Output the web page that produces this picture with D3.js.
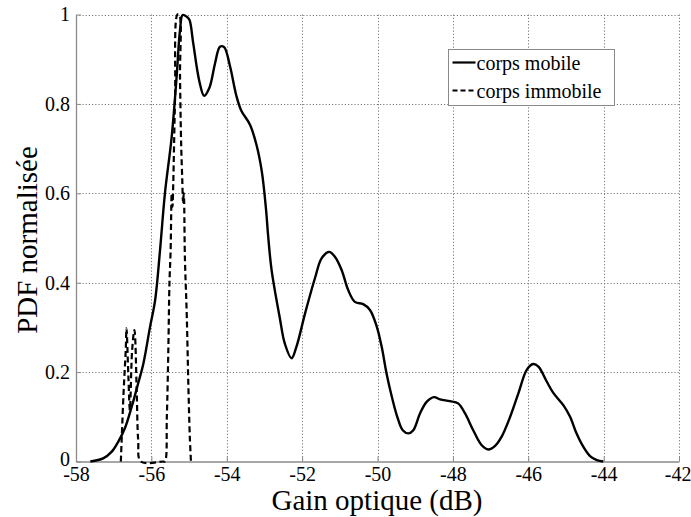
<!DOCTYPE html>
<html>
<head>
<meta charset="utf-8">
<script src="https://cdn.jsdelivr.net/npm/d3@7"></script>
<style>
  html, body { margin: 0; padding: 0; background: #fff; }
  svg { display: block; }
  text { font-family: "Liberation Serif", "Times New Roman", serif; fill: #000; }
</style>
</head>
<body>
<svg id="chart" width="691" height="517"></svg>
<script>
// Gain optique (dB) / PDF normalisée — corps mobile
const mobileGain = [-57.62, -57.28, -57.05, -56.88, -56.70, -56.52, -56.35, -56.21, -56.04, -55.90,
  -55.77, -55.64, -55.46, -55.33, -55.24, -55.17, -55.06, -54.99, -54.89, -54.73, -54.60, -54.46,
  -54.31, -54.18, -54.07, -53.91, -53.75, -53.62, -53.38, -53.21, -53.07, -52.96, -52.90, -52.81,
  -52.59, -52.46, -52.28, -52.15, -51.92, -51.66, -51.48, -51.28, -51.13, -50.95, -50.78, -50.60,
  -50.38, -50.20, -50.02, -49.89, -49.76, -49.62, -49.49, -49.33, -49.18, -49.05, -48.87, -48.69,
  -48.50, -48.34, -48.08, -47.86, -47.68, -47.46, -47.24, -47.06, -46.88, -46.71, -46.48, -46.26,
  -46.04, -45.87, -45.73, -45.51, -45.34, -45.07, -44.89, -44.72, -44.54, -44.36, -44.18, -44.01];
const mobilePdf = [0.000, 0.007, 0.022, 0.044, 0.075, 0.123, 0.175, 0.220, 0.299, 0.361,
  0.473, 0.600, 0.727, 0.861, 0.965, 0.999, 0.995, 0.988, 0.936, 0.852, 0.818, 0.836,
  0.891, 0.928, 0.927, 0.883, 0.820, 0.786, 0.753, 0.708, 0.649, 0.566, 0.503, 0.428,
  0.320, 0.264, 0.231, 0.257, 0.332, 0.410, 0.455, 0.469, 0.458, 0.428, 0.384, 0.357,
  0.352, 0.339, 0.302, 0.257, 0.197, 0.145, 0.104, 0.070, 0.063, 0.070, 0.108, 0.134,
  0.144, 0.139, 0.135, 0.130, 0.108, 0.070, 0.037, 0.027, 0.035, 0.055, 0.100, 0.153,
  0.205, 0.218, 0.212, 0.179, 0.154, 0.126, 0.100, 0.063, 0.033, 0.012, 0.003, 0.000];

// corps immobile
const immobileGain = [-56.81, -56.74, -56.68, -56.66, -56.61, -56.57, -56.51, -56.45, -56.39, -56.35,
  -56.28, -55.69, -55.64, -55.59, -55.55, -55.52, -55.49, -55.46, -55.44, -55.42, -55.40, -55.37,
  -55.31, -55.26, -55.24, -55.21, -55.18, -55.16, -55.14, -55.11, -55.06, -55.02, -54.98, -54.95];
const immobilePdf = [0.000, 0.150, 0.250, 0.298, 0.190, 0.115, 0.250, 0.294, 0.160, 0.048,
  0.000, 0.000, 0.000, 0.100, 0.250, 0.400, 0.470, 0.600, 0.570, 0.620, 0.700, 0.820,
  1.000, 1.000, 0.860, 0.710, 0.630, 0.580, 0.600, 0.455, 0.324, 0.175, 0.055, 0.000];

const xTicks = [-58, -56, -54, -52, -50, -48, -46, -44, -42];
const yTicks = [0, 0.2, 0.4, 0.6, 0.8, 1];
const seriesNames = ["corps mobile", "corps immobile"];

const svg = d3.select("#chart");
const plotL = 76, plotR = 679, plotT = 14.5, plotB = 461.5;

const x = d3.scaleLinear().domain([-58, -42]).range([plotL, plotR]);
const y = d3.scaleLinear().domain([0, 1]).range([plotB, plotT]);

// dotted grid
const grid = svg.append("g").attr("stroke", "#7a7a7a").attr("stroke-width", 1)
  .attr("stroke-dasharray", "1.2,2").attr("fill", "none");
grid.selectAll("line.gx").data(xTicks.slice(1)).join("line")
  .attr("x1", d => Math.round(x(d)) + 0.5).attr("x2", d => Math.round(x(d)) + 0.5)
  .attr("y1", plotT).attr("y2", plotB);
grid.selectAll("line.gy").data(yTicks.slice(1)).join("line")
  .attr("x1", plotL).attr("x2", plotR)
  .attr("y1", d => Math.round(y(d)) + 0.5).attr("y2", d => Math.round(y(d)) + 0.5);

// axes
const xAxis = d3.axisBottom(x).tickValues(xTicks).tickSizeInner(-5).tickSizeOuter(0)
  .tickPadding(5).tickFormat(d3.format("d"));
const yAxis = d3.axisLeft(y).tickValues(yTicks).tickSizeInner(-5).tickSizeOuter(0)
  .tickPadding(6).tickFormat(d => d === 0 || d === 1 ? String(d) : d3.format(".1f")(d));

const gx = svg.append("g").attr("transform", `translate(0,${plotB})`).call(xAxis);
const gy = svg.append("g").attr("transform", `translate(${plotL},0)`).call(yAxis);
[gx, gy].forEach(g => {
  g.attr("font-family", null);
  g.select(".domain").attr("stroke", "#8a8a8a").attr("stroke-width", 1.3);
  g.selectAll(".tick line").attr("stroke", "#8a8a8a");
  g.selectAll(".tick text").style("font-family", "'Liberation Serif', serif")
    .attr("font-size", 20).attr("fill", "#000");
});
gx.selectAll(".tick text").text(d => String(d).replace("\u2212", "-"));
// keep the last label inside the frame
gx.selectAll(".tick text").filter(d => d === -42).attr("text-anchor", "end").attr("dx", 12);
// lift the zero label clear of the first x label
gy.selectAll(".tick text").filter(d => d === 0).attr("dy", "0.2em");

// curves
const line = d3.line().x(d => x(d[0])).y(d => y(d[1])).curve(d3.curveCatmullRom.alpha(0.5));
const mobile = mobileGain.map((g, i) => [g, mobilePdf[i]]);
const immobile = immobileGain.map((g, i) => [g, immobilePdf[i]]);

svg.append("path").datum(immobile).attr("d", line)
  .attr("fill", "none").attr("stroke", "#000").attr("stroke-width", 2.2)
  .attr("stroke-dasharray", "6,3.5");
svg.append("path").datum(mobile).attr("d", line)
  .attr("fill", "none").attr("stroke", "#000").attr("stroke-width", 2.4);

// legend
const lg = svg.append("g").attr("transform", "translate(448.5,49.5)");
lg.append("rect").attr("width", 166).attr("height", 56)
  .attr("fill", "#fff").attr("stroke", "#8a8a8a").attr("stroke-width", 1);
const rows = lg.selectAll("g.row").data(seriesNames).join("g")
  .attr("transform", (d, i) => `translate(0,${13 + i * 28})`);
rows.append("line").attr("x1", 4).attr("x2", 27).attr("y1", 0).attr("y2", 0)
  .attr("stroke", "#000").attr("stroke-width", 2.2)
  .attr("stroke-dasharray", (d, i) => i ? "5,3" : null);
rows.append("text").attr("x", 28).attr("y", 7).attr("font-size", 20).text(d => d);

// axis titles
svg.append("text").attr("x", 377).attr("y", 510).attr("text-anchor", "middle")
  .attr("font-size", 29).text("Gain optique (dB)");
svg.append("text").attr("transform", "translate(37,240) rotate(-90)")
  .attr("text-anchor", "middle").attr("font-size", 29).text("PDF normalisée");
</script>
</body>
</html>
